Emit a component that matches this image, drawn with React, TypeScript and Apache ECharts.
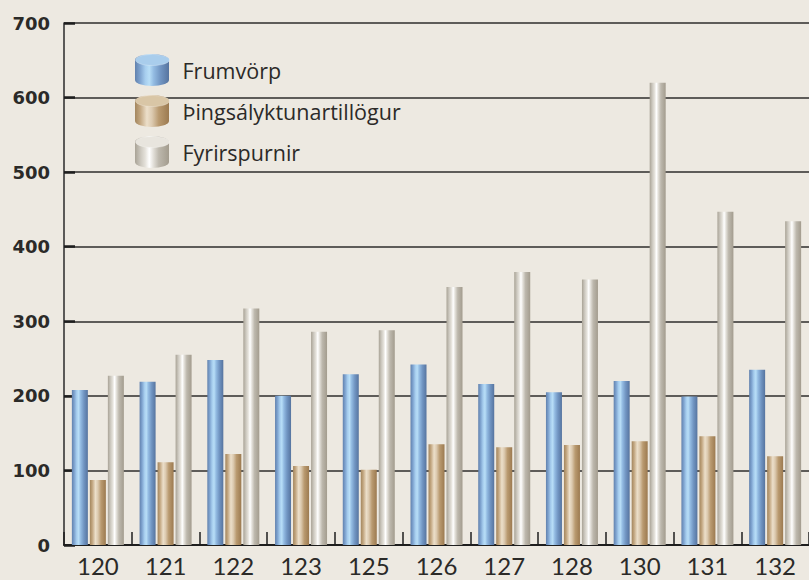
import React, { useEffect, useRef } from "react";
import * as echarts from "echarts";

const categories = ["120", "121", "122", "123", "125", "126", "127", "128", "130", "131", "132"];
const frumvorp = [208, 219, 248, 200, 229, 242, 216, 205, 220, 199, 235];
const thingsalyktunartillogur = [87, 111, 122, 106, 101, 135, 131, 134, 139, 146, 119];
const fyrirspurnir = [227, 255, 317, 286, 288, 346, 366, 356, 620, 447, 434];
const seriesNames = ["Frumvörp", "Þingsályktunartillögur", "Fyrirspurnir"];
const yTicks = [0, 100, 200, 300, 400, 500, 600, 700];
const legendTops = ["#a9cdec", "#d9c6a6", "#e8e5de"];

const grad = (stops: [number, string][]) =>
  new echarts.graphic.LinearGradient(
    0, 0, 1, 0,
    stops.map(([offset, color]) => ({ offset, color }))
  );

const blueGrad = () =>
  grad([
    [0, "#6181ad"],
    [0.15, "#7ea3cf"],
    [0.3, "#a6cdee"],
    [0.42, "#b8def7"],
    [0.55, "#93bbe2"],
    [0.75, "#7195c2"],
    [1, "#56749f"],
  ]);
const brownGrad = () =>
  grad([
    [0, "#a3865e"],
    [0.15, "#c2a680"],
    [0.35, "#ecdfca"],
    [0.5, "#dccab0"],
    [0.7, "#b99a70"],
    [1, "#9c7a50"],
  ]);
const grayGrad = () =>
  grad([
    [0, "#a9a396"],
    [0.18, "#cfcbc2"],
    [0.3, "#e4e1da"],
    [0.42, "#ffffff"],
    [0.55, "#e0ddd6"],
    [0.7, "#bdb8ad"],
    [1, "#a39c8e"],
  ]);

const cylinder = "path://M0,6 A17,6 0 0 1 34,6 L34,26 A17,6 0 0 1 0,26 Z";

const LEG_LEFT = 135;
const LEG_TOP = 54;
const LEG_W = 35;
const LEG_H = 32;
const LEG_GAP = 9;

export default function App() {
  const ref = useRef<HTMLDivElement>(null);
  useEffect(() => {
    if (!ref.current) return;
    const chart = echarts.init(ref.current, undefined, { renderer: "svg" });
    const textColor = "#2b2a28";
    chart.setOption({
      animation: false,
      backgroundColor: "#ede9e1",
      grid: { left: 64, right: -3, top: 23, bottom: 35, containLabel: false },
      legend: {
        orient: "vertical",
        left: LEG_LEFT,
        top: LEG_TOP,
        padding: 0,
        itemWidth: LEG_W,
        itemHeight: LEG_H,
        itemGap: LEG_GAP,
        icon: cylinder,
        data: seriesNames,
        textStyle: {
          fontFamily: "Open Sans",
          fontSize: 21.5,
          color: textColor,
          padding: [0, 0, 0, 8],
        },
      },
      graphic: legendTops.map((c, i) => ({
        type: "ellipse",
        silent: true,
        z: 100,
        shape: {
          cx: LEG_LEFT + LEG_W / 2,
          cy: LEG_TOP + i * (LEG_H + LEG_GAP) + 6,
          rx: LEG_W / 2 - 0.5,
          ry: 5.5,
        },
        style: { fill: c, stroke: "rgba(255,255,255,0.5)", lineWidth: 0.5 },
      })),
      xAxis: {
        type: "category",
        data: categories,
        axisLine: { show: true, lineStyle: { color: "#1e1e1e", width: 2 } },
        axisTick: {
          show: true,
          inside: true,
          length: 13,
          alignWithLabel: false,
          lineStyle: { color: "#1e1e1e", width: 1.5 },
        },
        axisLabel: {
          fontFamily: "Lato",
          fontSize: 24,
          color: textColor,
          margin: 8,
        },
      },
      yAxis: {
        type: "value",
        min: 0,
        max: 700,
        interval: 100,
        axisLine: { show: true, lineStyle: { color: "#2a2a2a", width: 1.5 } },
        axisTick: {
          show: true,
          inside: true,
          length: 11,
          lineStyle: { color: "#1e1e1e", width: 2.5 },
        },
        splitLine: { show: true, lineStyle: { color: "#2e2d2b", width: 1.5 } },
        axisLabel: {
          fontFamily: "DejaVu Sans",
          fontWeight: "bold",
          fontSize: 18,
          color: textColor,
          margin: 14,
          formatter: (v: number) => (yTicks.includes(v) ? String(v) : ""),
        },
      },
      series: [
        {
          name: seriesNames[0],
          type: "bar",
          data: frumvorp,
          barWidth: 16,
          barGap: "12.5%",
          itemStyle: { color: blueGrad() },
        },
        {
          name: seriesNames[1],
          type: "bar",
          data: thingsalyktunartillogur,
          barWidth: 16,
          barGap: "12.5%",
          itemStyle: { color: brownGrad() },
        },
        {
          name: seriesNames[2],
          type: "bar",
          data: fyrirspurnir,
          barWidth: 16,
          barGap: "12.5%",
          itemStyle: { color: grayGrad() },
        },
      ],
    });
    return () => chart.dispose();
  }, []);
  return <div ref={ref} style={{ width: 809, height: 580, position: "absolute", left: 0, top: 0 }} />;
}
